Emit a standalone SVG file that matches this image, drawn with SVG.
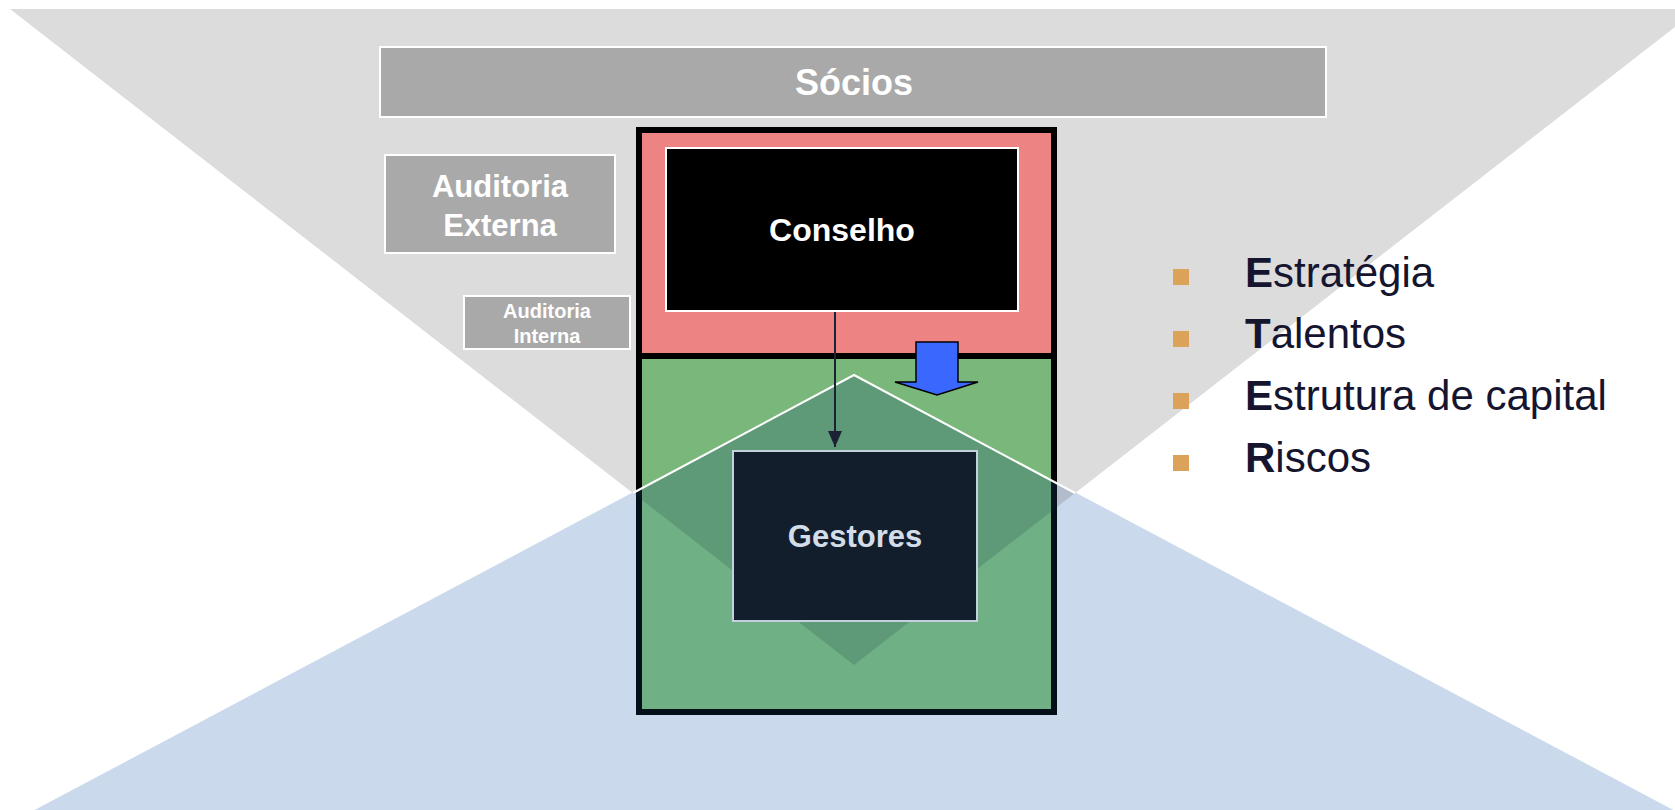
<svg xmlns="http://www.w3.org/2000/svg" width="1675" height="810" viewBox="0 0 1675 810">
<defs>
<style>
.lbl{font-family:"Liberation Sans",Arial,sans-serif;font-weight:bold;fill:#ffffff;text-anchor:middle}
.gbox{fill:#a9a9a9;stroke:#ffffff;stroke-width:2}
.bul{fill:#dca25a}
.item{font-family:"Liberation Sans",Arial,sans-serif;font-size:42px;fill:#15152f}
.frame{stroke:#000000;stroke-width:6}
</style>
<marker id="ah" markerUnits="userSpaceOnUse" markerWidth="16" markerHeight="16" viewBox="0 0 16 16" refX="16" refY="8" orient="auto">
<path d="M0,1 L16,8 L0,15 z" fill="#1a2233"/>
</marker>
<clipPath id="boxclip"><rect x="636" y="127" width="421" height="588"/></clipPath>
</defs>
<rect x="0" y="0" width="1675" height="810" fill="#ffffff"/>
<g id="background">
<polygon points="10,9 1698,9 854,665" fill="#dcdcdc"/>
<polygon points="854,375 1711,830 -3,830" fill="#cad9eb"/>
<polygon points="854,375 1075,493 854,665 633,493" fill="#b3bccb"/>
</g>
<g id="socios">
<rect class="gbox" x="380" y="47" width="946" height="70"/>
<text class="lbl" x="854" y="95" font-size="36">Sócios</text>
</g>
<g id="auditoria-externa">
<rect class="gbox" x="385" y="155" width="230" height="98"/>
<text class="lbl" x="500" y="197" font-size="31">Auditoria</text>
<text class="lbl" x="500" y="236" font-size="31">Externa</text>
</g>
<g id="auditoria-interna">
<rect class="gbox" x="464" y="296" width="166" height="53"/>
<text class="lbl" x="547" y="318" font-size="20">Auditoria</text>
<text class="lbl" x="547" y="343" font-size="20">Interna</text>
</g>
<g id="governance-box">
<rect class="frame" x="639" y="130" width="415" height="226" fill="#ee8383"/>
<rect class="frame" x="639" y="356" width="415" height="356" fill="#7ab77a"/>
<g clip-path="url(#boxclip)">
<polygon points="854,375 1711,830 -3,830" fill="#2080d0" fill-opacity="0.12"/>
<polygon points="854,375 1075,493 854,665 633,493" fill="#103040" fill-opacity="0.17"/>
</g>
<polyline points="633,493 854,375 1075,493" fill="none" stroke="#ffffff" stroke-width="2"/>
</g>
<g id="conselho">
<rect x="666" y="148" width="352" height="163" fill="#000000" stroke="#ffffff" stroke-width="2"/>
<text class="lbl" x="842" y="241" font-size="32">Conselho</text>
</g>
<g id="gestores">
<rect x="733" y="451" width="244" height="170" fill="#121e2c" stroke="#c5d0de" stroke-width="2"/>
<text class="lbl" x="855" y="547" font-size="31" style="fill:#d3ddea">Gestores</text>
</g>
<g id="block-arrow">
<polygon points="916,342 958,342 958,382 978,382 937,395 895,382 916,382" fill="#3a68ff" stroke="#000000" stroke-width="1.5" stroke-linejoin="miter"/>
</g>
<g id="connectors">
<line x1="835" y1="312" x2="835" y2="447" stroke="#1a2233" stroke-width="2" marker-end="url(#ah)"/>
</g>
<g id="bullet-list">
<rect class="bul" x="1173" y="269" width="16" height="16"/>
<rect class="bul" x="1173" y="331" width="16" height="16"/>
<rect class="bul" x="1173" y="393" width="16" height="16"/>
<rect class="bul" x="1173" y="455" width="16" height="16"/>
<text class="item" x="1245" y="287"><tspan font-weight="bold">E</tspan>stratégia</text>
<text class="item" x="1245" y="348"><tspan font-weight="bold">T</tspan>alentos</text>
<text class="item" x="1245" y="410"><tspan font-weight="bold">E</tspan>strutura de capital</text>
<text class="item" x="1245" y="472"><tspan font-weight="bold">R</tspan>iscos</text>
</g>
</svg>
